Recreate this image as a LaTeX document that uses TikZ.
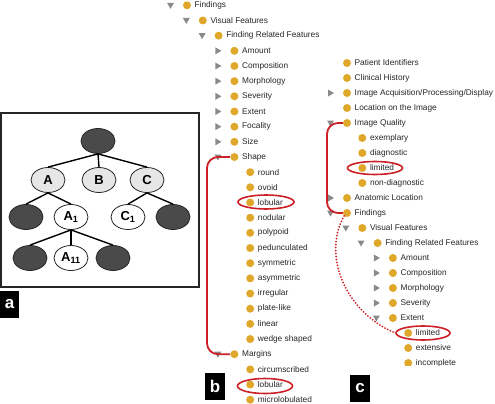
\documentclass[tikz,border=0pt]{standalone}
\usepackage{fontspec}
\setmainfont{Liberation Sans}
\usetikzlibrary{shapes.geometric}
\definecolor{dotgold}{HTML}{E0A82A}
\definecolor{trigray}{HTML}{8A8A8A}
\definecolor{markred}{HTML}{CC1F26}
\definecolor{lightfill}{HTML}{E6E6E6}
\definecolor{darkfill}{HTML}{4A4A4A}
\definecolor{edgegray}{HTML}{262626}
\tikzset{
  golddot/.style={circle, fill=dotgold, inner sep=0pt, minimum size=8pt},
  itemtext/.style={anchor=west, inner sep=0pt, font=\fontsize{8.3}{9}\selectfont, text=black!85},
  trid/.pic={\fill[trigray] (-3.5,-2.5) -- (3.5,-2.5) -- (0,3.5) -- cycle;},
  trir/.pic={\fill[trigray] (-2.5,-3.5) -- (3.5,0) -- (-2.5,3.5) -- cycle;},
  trin/.pic={},
  redline/.style={draw=markred, line width=1.8pt, rounded corners=11pt},
  reddotted/.style={draw=markred, line width=2pt, dash pattern=on 0pt off 3pt, line cap=round},
  redring/.style={ellipse, draw=markred, line width=1.6pt, inner sep=0pt},
  treenode/.style={ellipse, draw=edgegray, line width=0.8pt, minimum width=34pt, minimum height=25pt, inner sep=0pt, font=\fontsize{13}{13}\selectfont\bfseries},
  lightnode/.style={treenode, fill=lightfill},
  whitenode/.style={treenode, fill=white},
  darknode/.style={treenode, fill=darkfill},
  treeedge/.style={draw=black, line width=1.4pt},
  panelbox/.style={draw=edgegray, line width=1.5pt},
  labelbox/.style={fill=black, text=white, inner sep=0pt, minimum width=20pt, minimum height=27pt, font=\fontsize{17}{17}\selectfont\bfseries}
}
\begin{document}
\begin{tikzpicture}[x=1pt, y=-1pt]
\useasboundingbox (0,0) rectangle (495,404);

% ---------- panel a ----------
\draw[panelbox] (1,113) rectangle (199,287);
\node[darknode] (root) at (98,141) {};
\node[lightnode] (na) at (48,180) {A};
\node[lightnode] (nb) at (99,180) {B};
\node[lightnode] (nc) at (147,180) {C};
\node[darknode] (nal) at (26,217) {};
\node[whitenode] (na1) at (71,217) {A\textsubscript{1}};
\node[whitenode] (nc1) at (128,217) {C\textsubscript{1}};
\node[darknode] (ncr) at (173,217) {};
\node[darknode] (na11l) at (30,258) {};
\node[whitenode] (na11) at (71,258) {A\textsubscript{11}};
\node[darknode] (na11r) at (113,258) {};
\draw[treeedge] (root.south) -- (na.north);
\draw[treeedge] (root.south) -- (nb.north);
\draw[treeedge] (root.south) -- (nc.north);
\draw[treeedge] (na.south) -- (nal.north);
\draw[treeedge] (na.south) -- (na1.north);
\draw[treeedge] (nc.south) -- (nc1.north);
\draw[treeedge] (nc.south) -- (ncr.north);
\draw[treeedge] (na1.south) -- (na11l.north);
\draw[treeedge] (na1.south) -- (na11.north);
\draw[treeedge] (na1.south) -- (na11r.north);
\node[labelbox, minimum width=19pt] (la) at (9.5,304) {a};

% ---------- panel b ----------
\foreach \lv/\tr/\tx [count=\i from 0] in {
 0/d/Findings, 1/d/Visual Features, 2/d/Finding Related Features,
 3/r/Amount, 3/r/Composition, 3/r/Morphology, 3/r/Severity, 3/r/Extent, 3/r/Focality, 3/r/Size, 3/d/Shape,
 4/n/round, 4/n/ovoid, 4/n/lobular, 4/n/nodular, 4/n/polypoid, 4/n/pedunculated, 4/n/symmetric,
 4/n/asymmetric, 4/n/irregular, 4/n/plate-like, 4/n/linear, 4/n/wedge shaped,
 3/d/Margins, 4/n/circumscribed, 4/n/lobular, 4/n/microlobulated}{
  \pgfmathsetmacro\yy{5.3+15.17*\i}
  \pgfmathsetmacro\xx{187+15.8*\lv}
  \pic at (\xx-16.5,\yy) {tri\tr};
  \node[golddot] (bd\i) at (\xx,\yy) {};
  \node[itemtext] (bt\i) at (\xx+7.5,\yy) {\tx};
}
\node[redring, minimum width=56pt, minimum height=14pt] (eb1) at (266,202) {};
\node[redring, minimum width=55pt, minimum height=15pt] (eb2) at (265,386) {};
\coordinate (brail) at (207,0);
\draw[redline] (bd10.west) -- (bd10.west -| brail) -- (bd23.west -| brail) -- (bd23.west);
\node[labelbox] (lb) at (215,386) {b};

% ---------- panel c ----------
\begin{scope}
\clip (300,40) rectangle (495,365);
\foreach \lv/\tr/\tx [count=\i from 0] in {
 0/n/Patient Identifiers, 0/n/Clinical History, 0/r/{Image Acquisition/Processing/Display},
 0/n/Location on the Image, 0/d/Image Quality, 1/n/exemplary, 1/n/diagnostic, 1/n/limited,
 1/n/non-diagnostic, 0/r/Anatomic Location, 0/d/Findings, 1/d/Visual Features,
 2/d/Finding Related Features, 3/r/Amount, 3/r/Composition, 3/r/Morphology, 3/r/Severity,
 3/d/Extent, 4/n/limited, 4/n/extensive, 4/n/incomplete}{
  \pgfmathsetmacro\yy{63+15*\i}
  \pgfmathsetmacro\xx{347+15.3*\lv}
  \pic at (\xx-16.5,\yy) {tri\tr};
  \node[golddot] (cd\i) at (\xx,\yy) {};
  \node[itemtext] (ct\i) at (\xx+7.5,\yy) {\tx};
}
\end{scope}
\node[redring, minimum width=55pt, minimum height=13pt] (ec1) at (375,168) {};
\node[redring, minimum width=54pt, minimum height=14pt] (ec2) at (423,333) {};
\coordinate (crail) at (327,0);
\draw[redline] (cd4.west) -- (cd4.west -| crail) -- (cd10.west -| crail) -- (cd10.west);
\draw[reddotted] (cd10.south west) .. controls (322,255) and (345,312) .. (ec2.west);
\node[labelbox] (lc) at (360,388) {c};
\end{tikzpicture}
\end{document}
